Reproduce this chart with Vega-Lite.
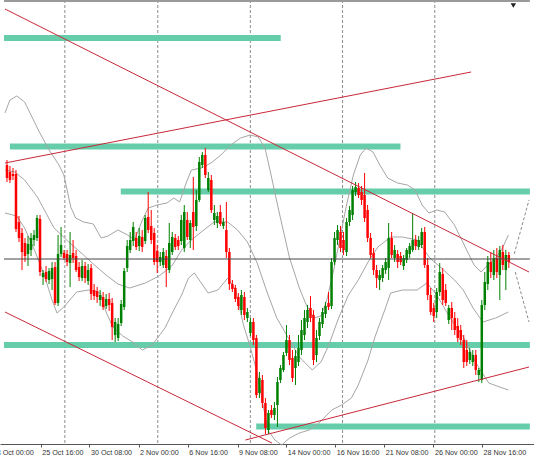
{
"$schema":"https://vega.github.io/schema/vega-lite/v6.json",
"width":534,"height":444,"padding":{"left":0,"top":0,"right":0,"bottom":18},"autosize":{"type":"none"},
"background":"white",
"config":{"view":{"stroke":null}},
"datasets":{
"candles":[
{"n":5,"o":165,"h":160,"l":182,"c":178},{"n":6,"o":172,"h":166,"l":183,"c":180},{"n":7,"o":174,"h":168,"l":180,"c":176},{"n":8,"o":174,"h":170,"l":232,"c":229},{"n":9,"o":222,"h":216,"l":242,"c":238},{"n":10,"o":233,"h":228,"l":270,"c":252},{"n":11,"o":243,"h":238,"l":262,"c":256},{"n":12,"o":254,"h":236,"l":266,"c":244},{"n":13,"o":250,"h":233,"l":256,"c":238},{"n":14,"o":240,"h":230,"l":246,"c":235},
{"n":15,"o":238,"h":215,"l":241,"c":218},{"n":16,"o":219,"h":215,"l":276,"c":272},{"n":17,"o":277,"h":270,"l":285,"c":273},{"n":18,"o":272,"h":266,"l":282,"c":279},{"n":19,"o":280,"h":268,"l":284,"c":271},{"n":20,"o":279,"h":262,"l":290,"c":268},{"n":21,"o":267,"h":262,"l":305,"c":303},{"n":22,"o":303,"h":235,"l":306,"c":254},{"n":23,"o":254,"h":227,"l":257,"c":245},{"n":24,"o":253,"h":250,"l":260,"c":258},
{"n":25,"o":254,"h":250,"l":266,"c":262},{"n":26,"o":263,"h":232,"l":287,"c":255},{"n":27,"o":253,"h":240,"l":263,"c":258},{"n":28,"o":256,"h":250,"l":272,"c":270},{"n":29,"o":267,"h":262,"l":281,"c":277},{"n":30,"o":278,"h":260,"l":281,"c":266},{"n":31,"o":266,"h":262,"l":283,"c":278},{"n":32,"o":281,"h":264,"l":285,"c":270},{"n":33,"o":268,"h":264,"l":300,"c":294},{"n":34,"o":290,"h":284,"l":300,"c":296},
{"n":35,"o":291,"h":287,"l":303,"c":297},{"n":36,"o":300,"h":290,"l":306,"c":295},{"n":37,"o":297,"h":292,"l":310,"c":307},{"n":38,"o":306,"h":294,"l":309,"c":299},{"n":39,"o":299,"h":293,"l":311,"c":305},{"n":40,"o":303,"h":298,"l":340,"c":327},{"n":41,"o":335,"h":318,"l":342,"c":322},{"n":42,"o":338,"h":318,"l":341,"c":324},{"n":43,"o":323,"h":300,"l":326,"c":304},{"n":44,"o":307,"h":268,"l":310,"c":271},
{"n":45,"o":268,"h":240,"l":272,"c":246},{"n":46,"o":250,"h":232,"l":253,"c":240},{"n":47,"o":241,"h":222,"l":246,"c":227},{"n":48,"o":238,"h":232,"l":250,"c":247},{"n":49,"o":246,"h":228,"l":251,"c":236},{"n":50,"o":237,"h":230,"l":252,"c":247},{"n":51,"o":241,"h":215,"l":244,"c":218},{"n":52,"o":217,"h":192,"l":233,"c":230},{"n":53,"o":226,"h":210,"l":244,"c":240},{"n":54,"o":233,"h":228,"l":265,"c":262},
{"n":55,"o":251,"h":245,"l":273,"c":262},{"n":56,"o":262,"h":252,"l":266,"c":257},{"n":57,"o":265,"h":248,"l":268,"c":252},{"n":58,"o":256,"h":250,"l":287,"c":268},{"n":59,"o":270,"h":223,"l":273,"c":243},{"n":60,"o":252,"h":232,"l":255,"c":237},{"n":61,"o":238,"h":234,"l":250,"c":247},{"n":62,"o":240,"h":236,"l":250,"c":246},{"n":63,"o":241,"h":215,"l":245,"c":220},{"n":64,"o":248,"h":205,"l":252,"c":212},
{"n":65,"o":220,"h":212,"l":240,"c":237},{"n":66,"o":240,"h":220,"l":248,"c":223},{"n":67,"o":212,"h":177,"l":250,"c":227},{"n":68,"o":226,"h":190,"l":231,"c":200},{"n":69,"o":200,"h":157,"l":202,"c":162},{"n":70,"o":165,"h":152,"l":168,"c":155},{"n":71,"o":155,"h":148,"l":178,"c":175},{"n":72,"o":190,"h":172,"l":192,"c":178},{"n":73,"o":180,"h":175,"l":213,"c":210},{"n":74,"o":220,"h":205,"l":225,"c":213},
{"n":75,"o":223,"h":212,"l":228,"c":216},{"n":76,"o":212,"h":205,"l":226,"c":224},{"n":77,"o":226,"h":218,"l":229,"c":222},{"n":78,"o":230,"h":202,"l":258,"c":252},{"n":79,"o":252,"h":248,"l":290,"c":284},{"n":80,"o":284,"h":280,"l":292,"c":289},{"n":81,"o":288,"h":285,"l":302,"c":299},{"n":82,"o":297,"h":293,"l":310,"c":306},{"n":83,"o":310,"h":290,"l":315,"c":295},{"n":84,"o":297,"h":292,"l":320,"c":315},
{"n":85,"o":318,"h":308,"l":322,"c":312},{"n":86,"o":333,"h":318,"l":336,"c":322},{"n":87,"o":322,"h":318,"l":345,"c":340},{"n":88,"o":338,"h":335,"l":398,"c":395},{"n":89,"o":393,"h":372,"l":398,"c":378},{"n":90,"o":380,"h":375,"l":408,"c":403},{"n":91,"o":403,"h":398,"l":434,"c":428},{"n":92,"o":430,"h":410,"l":434,"c":413},{"n":93,"o":410,"h":405,"l":418,"c":415},{"n":94,"o":415,"h":402,"l":420,"c":408},
{"n":95,"o":405,"h":377,"l":427,"c":382},{"n":96,"o":380,"h":365,"l":383,"c":368},{"n":97,"o":370,"h":352,"l":372,"c":355},{"n":98,"o":353,"h":325,"l":356,"c":340},{"n":99,"o":340,"h":335,"l":365,"c":360},{"n":100,"o":358,"h":350,"l":382,"c":378},{"n":101,"o":368,"h":350,"l":385,"c":356},{"n":102,"o":362,"h":335,"l":366,"c":348},{"n":103,"o":350,"h":320,"l":355,"c":330},{"n":104,"o":335,"h":310,"l":340,"c":318},
{"n":105,"o":322,"h":305,"l":328,"c":310},{"n":106,"o":308,"h":296,"l":322,"c":318},{"n":107,"o":315,"h":310,"l":365,"c":360},{"n":108,"o":355,"h":330,"l":362,"c":338},{"n":109,"o":336,"h":318,"l":340,"c":322},{"n":110,"o":324,"h":308,"l":328,"c":312},{"n":111,"o":314,"h":302,"l":318,"c":306},{"n":112,"o":303,"h":292,"l":310,"c":307},{"n":113,"o":306,"h":258,"l":309,"c":262},{"n":114,"o":262,"h":232,"l":265,"c":238},
{"n":115,"o":240,"h":225,"l":245,"c":230},{"n":116,"o":232,"h":226,"l":252,"c":248},{"n":117,"o":240,"h":232,"l":255,"c":250},{"n":118,"o":252,"h":218,"l":256,"c":222},{"n":119,"o":222,"h":206,"l":226,"c":210},{"n":120,"o":215,"h":186,"l":220,"c":190},{"n":121,"o":192,"h":182,"l":196,"c":187},{"n":122,"o":188,"h":183,"l":198,"c":195},{"n":123,"o":192,"h":186,"l":205,"c":200},{"n":124,"o":195,"h":173,"l":222,"c":218},
{"n":125,"o":210,"h":205,"l":242,"c":238},{"n":126,"o":238,"h":233,"l":258,"c":255},{"n":127,"o":253,"h":248,"l":275,"c":270},{"n":128,"o":270,"h":265,"l":288,"c":278},{"n":129,"o":280,"h":270,"l":290,"c":275},{"n":130,"o":278,"h":265,"l":282,"c":268},{"n":131,"o":270,"h":258,"l":274,"c":262},{"n":132,"o":268,"h":223,"l":280,"c":238},{"n":133,"o":238,"h":232,"l":258,"c":255},{"n":134,"o":258,"h":245,"l":262,"c":250},
{"n":135,"o":254,"h":250,"l":268,"c":262},{"n":136,"o":256,"h":252,"l":265,"c":262},{"n":137,"o":266,"h":255,"l":270,"c":258},{"n":138,"o":260,"h":248,"l":263,"c":250},{"n":139,"o":254,"h":243,"l":258,"c":246},{"n":140,"o":250,"h":213,"l":252,"c":240},{"n":141,"o":240,"h":235,"l":250,"c":246},{"n":142,"o":247,"h":236,"l":250,"c":240},{"n":143,"o":245,"h":228,"l":248,"c":232},{"n":144,"o":232,"h":227,"l":268,"c":265},
{"n":145,"o":265,"h":258,"l":300,"c":295},{"n":146,"o":295,"h":288,"l":315,"c":312},{"n":147,"o":308,"h":303,"l":322,"c":316},{"n":148,"o":312,"h":288,"l":318,"c":292},{"n":149,"o":292,"h":263,"l":296,"c":272},{"n":150,"o":274,"h":268,"l":305,"c":300},{"n":151,"o":290,"h":284,"l":306,"c":303},{"n":152,"o":320,"h":305,"l":324,"c":308},{"n":153,"o":308,"h":302,"l":330,"c":318},{"n":154,"o":318,"h":312,"l":335,"c":330},
{"n":155,"o":326,"h":318,"l":342,"c":338},{"n":156,"o":330,"h":325,"l":345,"c":340},{"n":157,"o":340,"h":335,"l":368,"c":362},{"n":158,"o":350,"h":340,"l":366,"c":362},{"n":159,"o":360,"h":348,"l":364,"c":352},{"n":160,"o":362,"h":350,"l":366,"c":355},{"n":161,"o":355,"h":350,"l":375,"c":370},{"n":162,"o":375,"h":368,"l":382,"c":370},{"n":163,"o":380,"h":300,"l":383,"c":305},{"n":164,"o":305,"h":272,"l":310,"c":282},
{"n":165,"o":284,"h":256,"l":290,"c":262},{"n":166,"o":262,"h":252,"l":278,"c":272},{"n":167,"o":275,"h":250,"l":280,"c":258},{"n":168,"o":258,"h":248,"l":278,"c":272},{"n":169,"o":275,"h":246,"l":300,"c":250},{"n":170,"o":252,"h":245,"l":270,"c":265},{"n":171,"o":270,"h":250,"l":290,"c":255},{"n":172,"o":255,"h":252,"l":268,"c":262}
],
"bands":[
{"id":"u","n":4.34,"y":113},{"id":"u","n":5.98,"y":100},{"id":"u","n":8.26,"y":96},{"id":"u","n":10.87,"y":102},{"id":"u","n":13.49,"y":118},{"id":"u","n":15.77,"y":132},{"id":"u","n":19.04,"y":150},{"id":"u","n":22.3,"y":165},{"id":"u","n":23.93,"y":175},{"id":"u","n":26.22,"y":207},{"id":"u","n":27.85,"y":218},{"id":"u","n":30.47,"y":222},{"id":"u","n":33.73,"y":224},{"id":"u","n":36.34,"y":238},{"id":"u","n":38.63,"y":236},{"id":"u","n":41.9,"y":230},{"id":"u","n":45.16,"y":235},{"id":"u","n":47.45,"y":240},{"id":"u","n":50.06,"y":220},{"id":"u","n":52.02,"y":208},{"id":"u","n":54.96,"y":205},{"id":"u","n":58.22,"y":203},{"id":"u","n":60.51,"y":198},{"id":"u","n":62.46,"y":202},{"id":"u","n":64.75,"y":182},{"id":"u","n":66.38,"y":170},{"id":"u","n":69.65,"y":168},{"id":"u","n":72.91,"y":163},{"id":"u","n":76.18,"y":155},{"id":"u","n":79.44,"y":145},{"id":"u","n":82.71,"y":138},{"id":"u","n":85.97,"y":135},{"id":"u","n":88.59,"y":137},{"id":"u","n":90.87,"y":148},{"id":"u","n":92.51,"y":170},{"id":"u","n":95.77,"y":215},{"id":"u","n":99.04,"y":258},{"id":"u","n":102.3,"y":288},{"id":"u","n":104.6,"y":305},{"id":"u","n":107.2,"y":318},{"id":"u","n":109.5,"y":316},{"id":"u","n":111.44,"y":300},{"id":"u","n":113.73,"y":270},{"id":"u","n":116.02,"y":235},{"id":"u","n":118.0,"y":205},{"id":"u","n":120.26,"y":175},{"id":"u","n":122.55,"y":155},{"id":"u","n":124.5,"y":148},{"id":"u","n":126.8,"y":152},{"id":"u","n":129.08,"y":165},{"id":"u","n":131.69,"y":178},{"id":"u","n":134.96,"y":183},{"id":"u","n":138.22,"y":185},{"id":"u","n":140.83,"y":190},{"id":"u","n":143.13,"y":205},{"id":"u","n":145.41,"y":213},{"id":"u","n":148.02,"y":210},{"id":"u","n":150.63,"y":212},{"id":"u","n":153.9,"y":225},{"id":"u","n":157.16,"y":245},{"id":"u","n":160.42,"y":265},{"id":"u","n":162.71,"y":272},{"id":"u","n":165.0,"y":265},{"id":"u","n":167.61,"y":258},{"id":"u","n":169.89,"y":248},{"id":"u","n":171.86,"y":235},
{"id":"m","n":4.34,"y":170},{"id":"m","n":7.61,"y":172},{"id":"m","n":10.87,"y":180},{"id":"m","n":15.12,"y":197},{"id":"m","n":20.67,"y":228},{"id":"m","n":25.57,"y":242},{"id":"m","n":30.47,"y":255},{"id":"m","n":33.73,"y":264},{"id":"m","n":37.97,"y":275},{"id":"m","n":41.9,"y":284},{"id":"m","n":45.82,"y":288},{"id":"m","n":51.04,"y":283},{"id":"m","n":55.61,"y":276},{"id":"m","n":59.85,"y":266},{"id":"m","n":63.12,"y":250},{"id":"m","n":66.38,"y":240},{"id":"m","n":69.65,"y":232},{"id":"m","n":73.9,"y":222},{"id":"m","n":78.46,"y":222},{"id":"m","n":81.73,"y":230},{"id":"m","n":85.0,"y":242},{"id":"m","n":88.26,"y":263},{"id":"m","n":91.53,"y":292},{"id":"m","n":94.79,"y":318},{"id":"m","n":99.04,"y":340},{"id":"m","n":102.3,"y":357},{"id":"m","n":106.55,"y":370},{"id":"m","n":109.5,"y":362},{"id":"m","n":112.1,"y":345},{"id":"m","n":115.36,"y":318},{"id":"m","n":118.63,"y":295},{"id":"m","n":121.9,"y":280},{"id":"m","n":125.16,"y":262},{"id":"m","n":128.42,"y":247},{"id":"m","n":132.67,"y":237},{"id":"m","n":136.6,"y":237},{"id":"m","n":141.49,"y":240},{"id":"m","n":145.73,"y":258},{"id":"m","n":150.3,"y":270},{"id":"m","n":153.9,"y":280},{"id":"m","n":156.84,"y":290},{"id":"m","n":160.1,"y":308},{"id":"m","n":163.37,"y":322},{"id":"m","n":167.61,"y":318},{"id":"m","n":171.86,"y":312},
{"id":"l","n":4.34,"y":213},{"id":"l","n":8.26,"y":216},{"id":"l","n":10.87,"y":228},{"id":"l","n":14.14,"y":250},{"id":"l","n":17.4,"y":275},{"id":"l","n":20.0,"y":300},{"id":"l","n":21.65,"y":313},{"id":"l","n":23.93,"y":307},{"id":"l","n":28.18,"y":292},{"id":"l","n":32.1,"y":290},{"id":"l","n":36.02,"y":293},{"id":"l","n":37.97,"y":312},{"id":"l","n":40.26,"y":327},{"id":"l","n":43.53,"y":336},{"id":"l","n":46.8,"y":342},{"id":"l","n":50.06,"y":350},{"id":"l","n":53.32,"y":345},{"id":"l","n":57.57,"y":328},{"id":"l","n":60.51,"y":310},{"id":"l","n":63.12,"y":295},{"id":"l","n":65.41,"y":278},{"id":"l","n":67.36,"y":273},{"id":"l","n":69.65,"y":283},{"id":"l","n":71.94,"y":293},{"id":"l","n":75.2,"y":290},{"id":"l","n":78.47,"y":278},{"id":"l","n":81.08,"y":290},{"id":"l","n":83.69,"y":325},{"id":"l","n":85.97,"y":347},{"id":"l","n":88.26,"y":373},{"id":"l","n":90.22,"y":405},{"id":"l","n":91.85,"y":430},{"id":"l","n":94.14,"y":440},{"id":"l","n":96.42,"y":445},{"id":"l","n":99.04,"y":438},{"id":"l","n":102.3,"y":433},{"id":"l","n":105.57,"y":430},{"id":"l","n":108.83,"y":423},{"id":"l","n":113.08,"y":410},{"id":"l","n":116.34,"y":405},{"id":"l","n":119.61,"y":398},{"id":"l","n":121.9,"y":385},{"id":"l","n":125.16,"y":360},{"id":"l","n":127.44,"y":337},{"id":"l","n":130.71,"y":310},{"id":"l","n":132.67,"y":293},{"id":"l","n":136.6,"y":290},{"id":"l","n":141.49,"y":290},{"id":"l","n":144.75,"y":283},{"id":"l","n":148.02,"y":295},{"id":"l","n":152.26,"y":317},{"id":"l","n":156.84,"y":337},{"id":"l","n":161.08,"y":363},{"id":"l","n":165.32,"y":383},{"id":"l","n":169.89,"y":388},{"id":"l","n":171.86,"y":390}
],
"trend":[
{"id":"A","n":4.34,"y":9},{"id":"A","n":178.71,"y":272},
{"id":"B","n":4.34,"y":163},{"id":"B","n":159.45,"y":72},
{"id":"C","n":4.34,"y":312},{"id":"C","n":93.16,"y":443},
{"id":"D","n":84.34,"y":440},{"id":"D","n":178.71,"y":367}
],
"proj":[
{"id":"P1","n":173.8,"y":254},{"id":"P1","n":178.71,"y":200},
{"id":"P2","n":174.14,"y":272},{"id":"P2","n":178.71,"y":322}
],
"levels":[
{"n":4.0,"n2":96.1,"y":38},{"n":5.98,"n2":135.94,"y":146.5},{"n":42.87,"n2":179,"y":191.5},{"n":4.0,"n2":179,"y":345},{"n":87.93,"n2":179,"y":426.5}
],
"weeks":[{"n":24.26},{"n":55.18},{"n":85.98},{"n":116.67},{"n":147.36}],
"hline":[{"n":4.0,"n2":179,"y":259}],
"border":[{"n":4.0,"n2":179,"y":1}],
"marker":[{"n":173.5,"y":5.5}]
},
"encoding":{
"x":{"field":"n","type":"quantitative",
"scale":{"domain":[4.343,178.71],"nice":false,"zero":false},
"axis":{"title":null,"grid":false,
"values":[4.4,16.23,32.45,48.78,65.18,81.73,97.93,114.26,130.58,146.91,163.1],
"labelExpr":"['23 Oct 00:00','25 Oct 16:00','30 Oct 08:00','2 Nov 00:00','6 Nov 16:00','9 Nov 08:00','14 Nov 00:00','16 Nov 16:00','21 Nov 08:00','26 Nov 00:00','28 Nov 16:00'][indexof([4.4,16.23,32.45,48.78,65.18,81.73,97.93,114.26,130.58,146.91,163.1], datum.value)]",
"labelAlign":"left","labelBaseline":"top",
"labelOffset":{"condition":{"test":"datum.value < 5","value":-13},"value":1},
"tickOpacity":{"condition":{"test":"datum.value < 5","value":0},"value":1},
"labelFont":"Liberation Sans","labelFontSize":7.2,"labelColor":"#333333",
"labelPadding":1,"tickSize":3,"tickColor":"#555555","domainColor":"#555555",
"labelOverlap":false,"labelFlush":false,"labelBound":false}}
},
"layer":[
{"data":{"name":"weeks"},"mark":{"type":"rule","color":"#8c8c8c","strokeWidth":1,"strokeDash":[3,2]},"encoding":{}},
{"data":{"name":"levels"},"mark":{"type":"rule","color":"#66cdaa","strokeWidth":6,"strokeCap":"butt"},
 "encoding":{"x2":{"field":"n2"},"y":{"field":"y","type":"quantitative","scale":{"domain":[0,444],"reverse":true,"nice":false,"zero":false},"axis":null}}},
{"data":{"name":"bands"},"mark":{"type":"line","color":"#a6a6a6","strokeWidth":1},
 "encoding":{"y":{"field":"y","type":"quantitative","scale":{"domain":[0,444],"reverse":true,"nice":false,"zero":false},"axis":null},"detail":{"field":"id"}}},
{"data":{"name":"candles"},"mark":{"type":"rule","strokeWidth":1},
 "encoding":{"y":{"field":"h","type":"quantitative","scale":{"domain":[0,444],"reverse":true,"nice":false,"zero":false},"axis":null},"y2":{"field":"l"},
 "color":{"condition":{"test":"datum.c > datum.o","value":"#ff0000"},"value":"#008000"}}},
{"data":{"name":"candles"},"mark":{"type":"bar","width":2.5},
 "encoding":{"y":{"field":"o","type":"quantitative","scale":{"domain":[0,444],"reverse":true,"nice":false,"zero":false},"axis":null},"y2":{"field":"c"},
 "color":{"condition":{"test":"datum.c > datum.o","value":"#ff0000"},"value":"#008000"}}},
{"data":{"name":"hline"},"mark":{"type":"rule","color":"#454545","strokeWidth":1},
 "encoding":{"x2":{"field":"n2"},"y":{"field":"y","type":"quantitative","scale":{"domain":[0,444],"reverse":true,"nice":false,"zero":false},"axis":null}}},
{"data":{"name":"trend"},"mark":{"type":"line","color":"#c8283a","strokeWidth":1},
 "encoding":{"y":{"field":"y","type":"quantitative","scale":{"domain":[0,444],"reverse":true,"nice":false,"zero":false},"axis":null},"detail":{"field":"id"}}},
{"data":{"name":"proj"},"mark":{"type":"line","color":"#8c8c8c","strokeWidth":1,"strokeDash":[3,2]},
 "encoding":{"y":{"field":"y","type":"quantitative","scale":{"domain":[0,444],"reverse":true,"nice":false,"zero":false},"axis":null},"detail":{"field":"id"}}},
{"data":{"name":"border"},"mark":{"type":"rule","color":"#9a9a9a","strokeWidth":2},
 "encoding":{"x2":{"field":"n2"},"y":{"field":"y","type":"quantitative","scale":{"domain":[0,444],"reverse":true,"nice":false,"zero":false},"axis":null}}},
{"data":{"name":"marker"},"mark":{"type":"point","shape":"triangle-down","filled":true,"color":"#222222","size":30,"opacity":1},
 "encoding":{"y":{"field":"y","type":"quantitative","scale":{"domain":[0,444],"reverse":true,"nice":false,"zero":false},"axis":null}}}
]
}
